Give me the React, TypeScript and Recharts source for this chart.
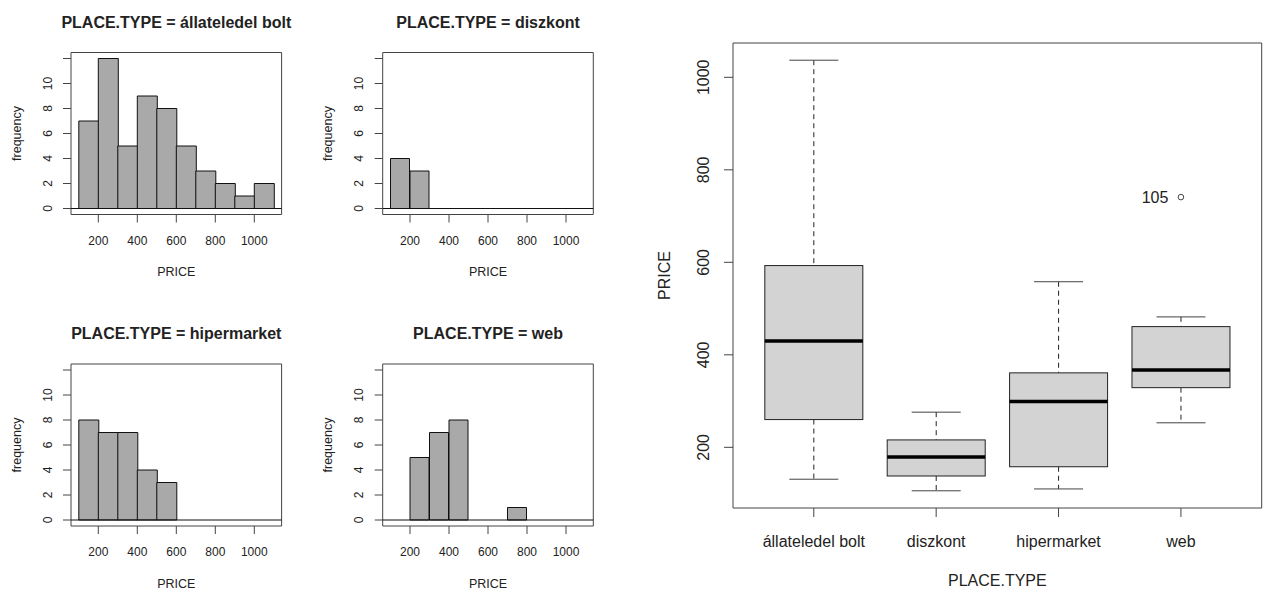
import React from "react";
import {
  BarChart,
  Bar,
  ComposedChart,
  Scatter,
  XAxis,
  YAxis,
  ReferenceArea,
  ReferenceLine,
} from "recharts";

const W = 1264;
const H = 589;
const FONT = '"Liberation Sans", Arial, Helvetica, sans-serif';
const INK = "#222";
const FRAME = "#444";

// histogram bins of PRICE (width 100)
const BIN_W = 100;
const binStarts = [100, 200, 300, 400, 500, 600, 700, 800, 900, 1000];
const priceTicks = [200, 400, 600, 800, 1000];
const freqTicks = [0, 2, 4, 6, 8, 10, 12];
const freqTickLabels = ["0", "2", "4", "6", "8", "10", ""];

const allatCounts = [7, 12, 5, 9, 8, 5, 3, 2, 1, 2];
const diszkontCounts = [4, 3, 0, 0, 0, 0, 0, 0, 0, 0];
const hiperCounts = [8, 7, 7, 4, 3, 0, 0, 0, 0, 0];
const webCounts = [0, 5, 7, 8, 0, 0, 1, 0, 0, 0];

// boxplot of PRICE by PLACE.TYPE
const placeTypes = ["állateledel bolt", "diszkont", "hipermarket", "web"];
const whiskerLow = [131, 106, 110, 253];
const quart1 = [260, 138, 158, 329];
const medians = [430, 179, 299, 367];
const quart3 = [593, 216, 361, 461];
const whiskerHigh = [1037, 276, 558, 482];
const outlierValues = [null, null, null, 741];
const outlierLabels = ["", "", "", "105"];
const boxTicks = [200, 400, 600, 800, 1000];

// layout (R-like: 4% extension of ranges)
const HX_DOMAIN = [60, 1140];
const HY_DOMAIN = [-0.48, 12.48];
const HP_W = 210.6;
const HP_H = 162;
const ROW_SHIFT = 311.5;
const H_YW = 30;
const H_XH = 40;

const panels = [
  { title: "PLACE.TYPE = állateledel bolt", counts: allatCounts, left: 71, top: 52.5 },
  { title: "PLACE.TYPE = diszkont", counts: diszkontCounts, left: 382.7, top: 52.5 },
  { title: "PLACE.TYPE = hipermarket", counts: hiperCounts, left: 71, top: 52.5 + ROW_SHIFT },
  { title: "PLACE.TYPE = web", counts: webCounts, left: 382.7, top: 52.5 + ROW_SHIFT },
];

const BOX = { left: 733, right: 1261.7, top: 43, bottom: 508 };
const BY_DOMAIN = [68.8, 1074.2];
const B_YW = 50;
const B_XH = 50;

function RotTick(props: any) {
  const { x, y, payload, size, labels, ticks } = props;
  let label = String(payload.value);
  if (labels && ticks) {
    const i = ticks.indexOf(payload.value);
    if (i >= 0) label = labels[i];
  }
  return (
    <text
      x={x}
      y={y}
      transform={`rotate(-90 ${x} ${y})`}
      textAnchor="middle"
      fontSize={size}
      fill={INK}
      fontFamily={FONT}
    >
      {label}
    </text>
  );
}

function Histogram({ counts, left, top }: { counts: number[]; left: number; top: number }) {
  const rows = binStarts.map((s, i) => ({ mid: s + BIN_W / 2, count: counts[i] }));
  return (
    <div style={{ position: "absolute", left: 0, top: 0 }}>
      <BarChart
        width={W}
        height={H}
        data={rows}
        barCategoryGap={0}
        barGap={0}
        margin={{
          left: left - H_YW,
          top: top,
          right: W - (left + HP_W),
          bottom: H - (top + HP_H) - H_XH,
        }}
      >
        <XAxis
          dataKey="mid"
          type="number"
          domain={HX_DOMAIN}
          allowDataOverflow
          ticks={priceTicks}
          interval={0}
          height={H_XH}
          axisLine={false}
          tickSize={8}
          tickMargin={13.5}
          tickLine={{ stroke: FRAME }}
          tick={{ fontSize: 12, fill: INK, fontFamily: FONT }}
        />
        <YAxis
          type="number"
          domain={HY_DOMAIN}
          allowDataOverflow
          ticks={freqTicks}
          interval={0}
          width={H_YW}
          axisLine={false}
          tickSize={8}
          tickMargin={11.3}
          tickLine={{ stroke: FRAME }}
          tick={(p: any) => <RotTick {...p} size={12} labels={freqTickLabels} ticks={freqTicks} />}
        />
        <ReferenceArea
          x1={HX_DOMAIN[0]}
          x2={HX_DOMAIN[1]}
          y1={HY_DOMAIN[0]}
          y2={HY_DOMAIN[1]}
          fill="none"
          fillOpacity={0}
          stroke={FRAME}
          strokeWidth={1}
          ifOverflow="visible"
        />
        <ReferenceLine y={0} stroke="#111" strokeWidth={1} />
        <Bar dataKey="count" fill="#A9A9A9" stroke="#111" strokeWidth={1} isAnimationActive={false} />
      </BarChart>
    </div>
  );
}

function BoxShape(props: any) {
  const { x, y, width, height, payload } = props;
  if (!payload) return <g />;
  const span = payload.hi - payload.lo;
  const k = span > 0 ? height / span : 0;
  const py = (v: number) => y + (payload.hi - v) * k;
  const cx = x + width / 2;
  const cap = width / 4;
  return (
    <g>
      <line x1={cx} x2={cx} y1={py(payload.hi)} y2={py(payload.q3)} stroke={INK} strokeDasharray="5 4" />
      <line x1={cx} x2={cx} y1={py(payload.q1)} y2={py(payload.lo)} stroke={INK} strokeDasharray="5 4" />
      <line x1={cx - cap} x2={cx + cap} y1={py(payload.hi)} y2={py(payload.hi)} stroke={FRAME} />
      <line x1={cx - cap} x2={cx + cap} y1={py(payload.lo)} y2={py(payload.lo)} stroke={FRAME} />
      <rect
        x={x}
        y={py(payload.q3)}
        width={width}
        height={py(payload.q1) - py(payload.q3)}
        fill="#D3D3D3"
        stroke={INK}
        strokeWidth={1}
      />
      <line x1={x} x2={x + width} y1={py(payload.med)} y2={py(payload.med)} stroke="#000" strokeWidth={3.5} />
    </g>
  );
}

function OutlierShape(props: any) {
  const { cx, cy, payload } = props;
  if (!payload || payload.outlier == null) return <g />;
  return (
    <g>
      <circle cx={cx} cy={cy} r={2.8} fill="none" stroke={FRAME} strokeWidth={1} />
      <text x={cx - 12.5} y={cy} dy="0.35em" textAnchor="end" fontSize={16} fill={INK} fontFamily={FONT}>
        {payload.outlierLabel}
      </text>
    </g>
  );
}

function BoxPlot() {
  const rows = placeTypes.map((t, i) => ({
    type: t,
    lo: whiskerLow[i],
    q1: quart1[i],
    med: medians[i],
    q3: quart3[i],
    hi: whiskerHigh[i],
    outlier: outlierValues[i],
    outlierLabel: outlierLabels[i],
  }));
  const plotW = BOX.right - BOX.left;
  const pad = (plotW * 0.16) / 4.32;
  return (
    <div style={{ position: "absolute", left: 0, top: 0 }}>
      <ComposedChart
        width={W}
        height={H}
        data={rows}
        barCategoryGap="10%"
        margin={{
          left: BOX.left - B_YW,
          top: BOX.top,
          right: W - BOX.right,
          bottom: H - BOX.bottom - B_XH,
        }}
      >
        <XAxis
          dataKey="type"
          type="category"
          padding={{ left: pad, right: pad }}
          interval={0}
          height={B_XH}
          axisLine={{ stroke: FRAME }}
          tickSize={9}
          tickMargin={19}
          tickLine={{ stroke: FRAME }}
          tick={{ fontSize: 16, fill: INK, fontFamily: FONT }}
        />
        <YAxis
          type="number"
          domain={BY_DOMAIN}
          allowDataOverflow
          ticks={boxTicks}
          interval={0}
          width={B_YW}
          axisLine={{ stroke: FRAME }}
          tickSize={9}
          tickMargin={14.5}
          tickLine={{ stroke: FRAME }}
          tick={(p: any) => <RotTick {...p} size={16} />}
        />
        <Bar dataKey={(d: any) => [d.lo, d.hi]} shape={BoxShape} isAnimationActive={false} />
        <Scatter dataKey="outlier" shape={OutlierShape} isAnimationActive={false} />
      </ComposedChart>
    </div>
  );
}

export default function App() {
  const textStyle = { fontFamily: FONT, fill: INK } as const;
  return (
    <div
      style={{
        position: "absolute",
        left: 0,
        top: 0,
        width: W,
        height: H,
        background: "#fff",
        overflow: "hidden",
        fontFamily: FONT,
      }}
    >
      {panels.map((p) => (
        <Histogram key={p.title} counts={p.counts} left={p.left} top={p.top} />
      ))}
      <BoxPlot />
      <svg width={W} height={H} style={{ position: "absolute", left: 0, top: 0, pointerEvents: "none" }}>
        {/* top and right edges of the boxplot frame */}
        <line x1={BOX.right} x2={BOX.right} y1={BOX.top} y2={BOX.bottom} stroke={FRAME} />
        <line x1={BOX.left} x2={BOX.right} y1={BOX.top} y2={BOX.top} stroke={FRAME} />
        {panels.map((p) => {
          const cx = p.left + HP_W / 2;
          const cy = p.top + HP_H / 2;
          const bx = p.left - 50.5;
          return (
            <g key={p.title}>
              <text x={cx} y={p.top - 25} textAnchor="middle" fontSize={16} fontWeight="bold" {...textStyle}>
                {p.title}
              </text>
              <text
                x={bx}
                y={cy}
                transform={`rotate(-90 ${bx} ${cy})`}
                textAnchor="middle"
                fontSize={12.5}
                {...textStyle}
              >
                frequency
              </text>
              <text x={cx} y={p.top + HP_H + 61.5} textAnchor="middle" fontSize={12.5} {...textStyle}>
                PRICE
              </text>
            </g>
          );
        })}
        <text
          x={670}
          y={(BOX.top + BOX.bottom) / 2}
          transform={`rotate(-90 670 ${(BOX.top + BOX.bottom) / 2})`}
          textAnchor="middle"
          fontSize={16}
          {...textStyle}
        >
          PRICE
        </text>
        <text x={(BOX.left + BOX.right) / 2} y={586} textAnchor="middle" fontSize={16} {...textStyle}>
          PLACE.TYPE
        </text>
      </svg>
    </div>
  );
}
